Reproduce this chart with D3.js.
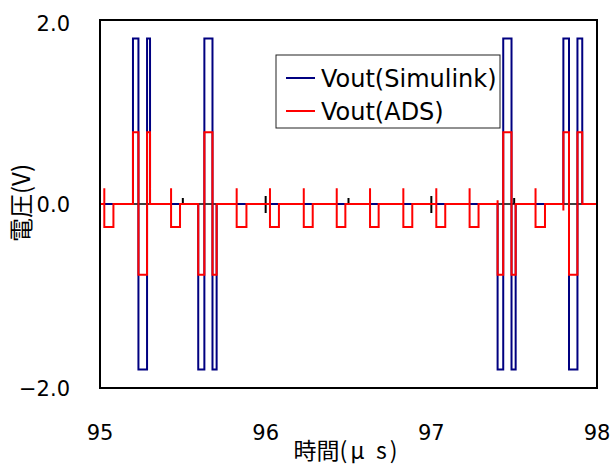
<!DOCTYPE html>
<html>
<head>
<meta charset="utf-8">
<script src="https://cdn.jsdelivr.net/npm/d3@7"></script>
<style>
  html, body { margin: 0; padding: 0; background: #fff; }
  svg { display: block; }
</style>
</head>
<body>
<svg id="chart" width="612" height="465"></svg>
<script>
// ---- data ----
const xTicks = [95, 96, 97, 98];
const xMinorTicks = [95.5, 96.5, 97.5];
const yTicks = [-2, 0, 2];
const yTickLabels = ["\u22122.0", "0.0", "2.0"];
const seriesNames = ["Vout(Simulink)", "Vout(ADS)"];
const seriesColors = ["#000080", "#ff0000"];

// Vout(Simulink): time (µs) / voltage (V) step points
const simT = [95.000, 95.199, 95.199, 95.232, 95.232, 95.284, 95.284, 95.302, 95.302,
  95.593, 95.593, 95.630, 95.630, 95.679, 95.679, 95.704, 95.704,
  97.400, 97.400, 97.434, 97.434, 97.484, 97.484, 97.509, 97.509,
  97.797, 97.797, 97.831, 97.831, 97.882, 97.882, 97.911, 97.911, 98.000];
const simV = [0, 0, 1.8, 1.8, -1.8, -1.8, 1.8, 1.8, 0,
  0, -1.8, -1.8, 1.8, 1.8, -1.8, -1.8, 0,
  0, -1.8, -1.8, 1.8, 1.8, -1.8, -1.8, 0,
  0, 1.8, 1.8, -1.8, -1.8, 1.8, 1.8, 0, 0];

// Vout(ADS): time (µs) / voltage (V) step points
const adsT = [95.000,
  95.026, 95.026, 95.026, 95.081, 95.081,
  95.199, 95.199, 95.232, 95.232, 95.284, 95.284, 95.302, 95.302,
  95.429, 95.429, 95.429, 95.483, 95.483,
  95.593, 95.593, 95.630, 95.630, 95.679, 95.679, 95.704, 95.704,
  95.825, 95.825, 95.825, 95.884, 95.884,
  96.026, 96.026, 96.026, 96.080, 96.080,
  96.230, 96.230, 96.230, 96.284, 96.284,
  96.429, 96.429, 96.429, 96.481, 96.481,
  96.630, 96.630, 96.630, 96.682, 96.682,
  96.831, 96.831, 96.831, 96.885, 96.885,
  97.030, 97.030, 97.030, 97.084, 97.084,
  97.231, 97.231, 97.231, 97.285, 97.285,
  97.400, 97.400, 97.400, 97.434, 97.434, 97.484, 97.484, 97.509, 97.509,
  97.629, 97.629, 97.629, 97.686, 97.686,
  97.797, 97.797, 97.797, 97.831, 97.831, 97.882, 97.882, 97.911, 97.911,
  98.000];
const adsV = [0,
  0, 0.17, -0.25, -0.25, 0,
  0, 0.78, 0.78, -0.77, -0.77, 0.78, 0.78, 0,
  0, 0.17, -0.25, -0.25, 0,
  0, -0.77, -0.77, 0.78, 0.78, -0.77, -0.77, 0,
  0, 0.17, -0.25, -0.25, 0,
  0, 0.17, -0.25, -0.25, 0,
  0, 0.17, -0.25, -0.25, 0,
  0, 0.17, -0.25, -0.25, 0,
  0, 0.17, -0.25, -0.25, 0,
  0, 0.17, -0.25, -0.25, 0,
  0, 0.17, -0.25, -0.25, 0,
  0, 0.17, -0.25, -0.25, 0,
  0, 0.04, -0.77, -0.77, 0.78, 0.78, -0.77, -0.77, 0,
  0, 0.17, -0.25, -0.25, 0,
  0, -0.07, 0.78, 0.78, -0.77, -0.77, 0.78, 0.78, 0,
  0];

// ---- layout ----
const svg = d3.select("#chart");
const plotL = 100, plotR = 597, plotT = 20, plotB = 388;
const x = d3.scaleLinear().domain([95, 98]).range([plotL, plotR]);
const y = d3.scaleLinear().domain([-2, 2]).range([plotB, plotT]);
const tickFont = "'DejaVu Sans', sans-serif";
const cjkFont = "'Noto Sans CJK JP', sans-serif";

// x axis line at y = 0 (under the series)
svg.append("line")
  .attr("x1", x(95)).attr("x2", x(98))
  .attr("y1", y(0)).attr("y2", y(0))
  .attr("stroke", "#000").attr("stroke-width", 1.5);

// major ticks cross the zero line, minor ticks point up
svg.selectAll("line.major").data(xTicks).enter().append("line")
  .attr("class", "major")
  .attr("x1", d => x(d)).attr("x2", d => x(d))
  .attr("y1", y(0) - 8).attr("y2", y(0) + 9)
  .attr("stroke", "#000").attr("stroke-width", 2);
svg.selectAll("line.minor").data(xMinorTicks).enter().append("line")
  .attr("class", "minor")
  .attr("x1", d => x(d)).attr("x2", d => x(d))
  .attr("y1", y(0) - 6).attr("y2", y(0))
  .attr("stroke", "#000").attr("stroke-width", 2);

// series
const line = d3.line().x(d => x(d[0])).y(d => y(d[1]));
const simData = d3.zip(simT, simV);
const adsData = d3.zip(adsT, adsV);
[simData, adsData].forEach((data, i) => {
  svg.append("path")
    .datum(data)
    .attr("d", line)
    .attr("fill", "none")
    .attr("stroke", seriesColors[i])
    .attr("stroke-width", 2)
    .attr("stroke-linejoin", "miter")
    .attr("stroke-linecap", "butt");
});

// plot frame
svg.append("rect")
  .attr("x", plotL).attr("y", plotT)
  .attr("width", plotR - plotL).attr("height", plotB - plotT)
  .attr("fill", "none").attr("stroke", "#000").attr("stroke-width", 2);

// y tick labels
svg.selectAll("text.ytick").data(yTicks).enter().append("text")
  .attr("class", "ytick")
  .attr("x", 70)
  .attr("y", d => y(d) + (d === 2 ? 10.5 : 7.5))
  .attr("text-anchor", "end")
  .attr("font-family", tickFont)
  .attr("font-size", 21)
  .attr("fill", "#000")
  .text((d, i) => yTickLabels[i]);

// x tick labels
svg.selectAll("text.xtick").data(xTicks).enter().append("text")
  .attr("class", "xtick")
  .attr("x", d => x(d))
  .attr("y", 440)
  .attr("text-anchor", "middle")
  .attr("font-family", tickFont)
  .attr("font-size", 21)
  .attr("fill", "#000")
  .text(d => String(d));

// axis titles
const xt = svg.append("text")
  .attr("x", 347).attr("y", 459)
  .attr("text-anchor", "middle")
  .attr("font-family", cjkFont)
  .attr("font-size", 23)
  .attr("fill", "#000");
xt.append("tspan").text("時間");
xt.append("tspan").attr("letter-spacing", 3).text("(μ s)");

svg.append("text")
  .attr("transform", "translate(30,203) rotate(-90)")
  .attr("text-anchor", "middle")
  .attr("font-family", cjkFont)
  .attr("font-size", 24)
  .attr("fill", "#000")
  .text("電圧(V)");

// legend
const lg = svg.append("g");
lg.append("rect")
  .attr("x", 276).attr("y", 55).attr("width", 224).attr("height", 73)
  .attr("fill", "#fff").attr("stroke", "#222").attr("stroke-width", 1);
seriesNames.forEach((name, i) => {
  const yy = 78 + i * 33;
  lg.append("line")
    .attr("x1", 286).attr("x2", 315).attr("y1", yy).attr("y2", yy)
    .attr("stroke", seriesColors[i]).attr("stroke-width", 2);
  lg.append("text")
    .attr("x", 321).attr("y", yy + 8.5)
    .attr("font-family", tickFont)
    .attr("font-size", 24)
    .attr("fill", "#000")
    .text(name);
});
</script>
</body>
</html>
